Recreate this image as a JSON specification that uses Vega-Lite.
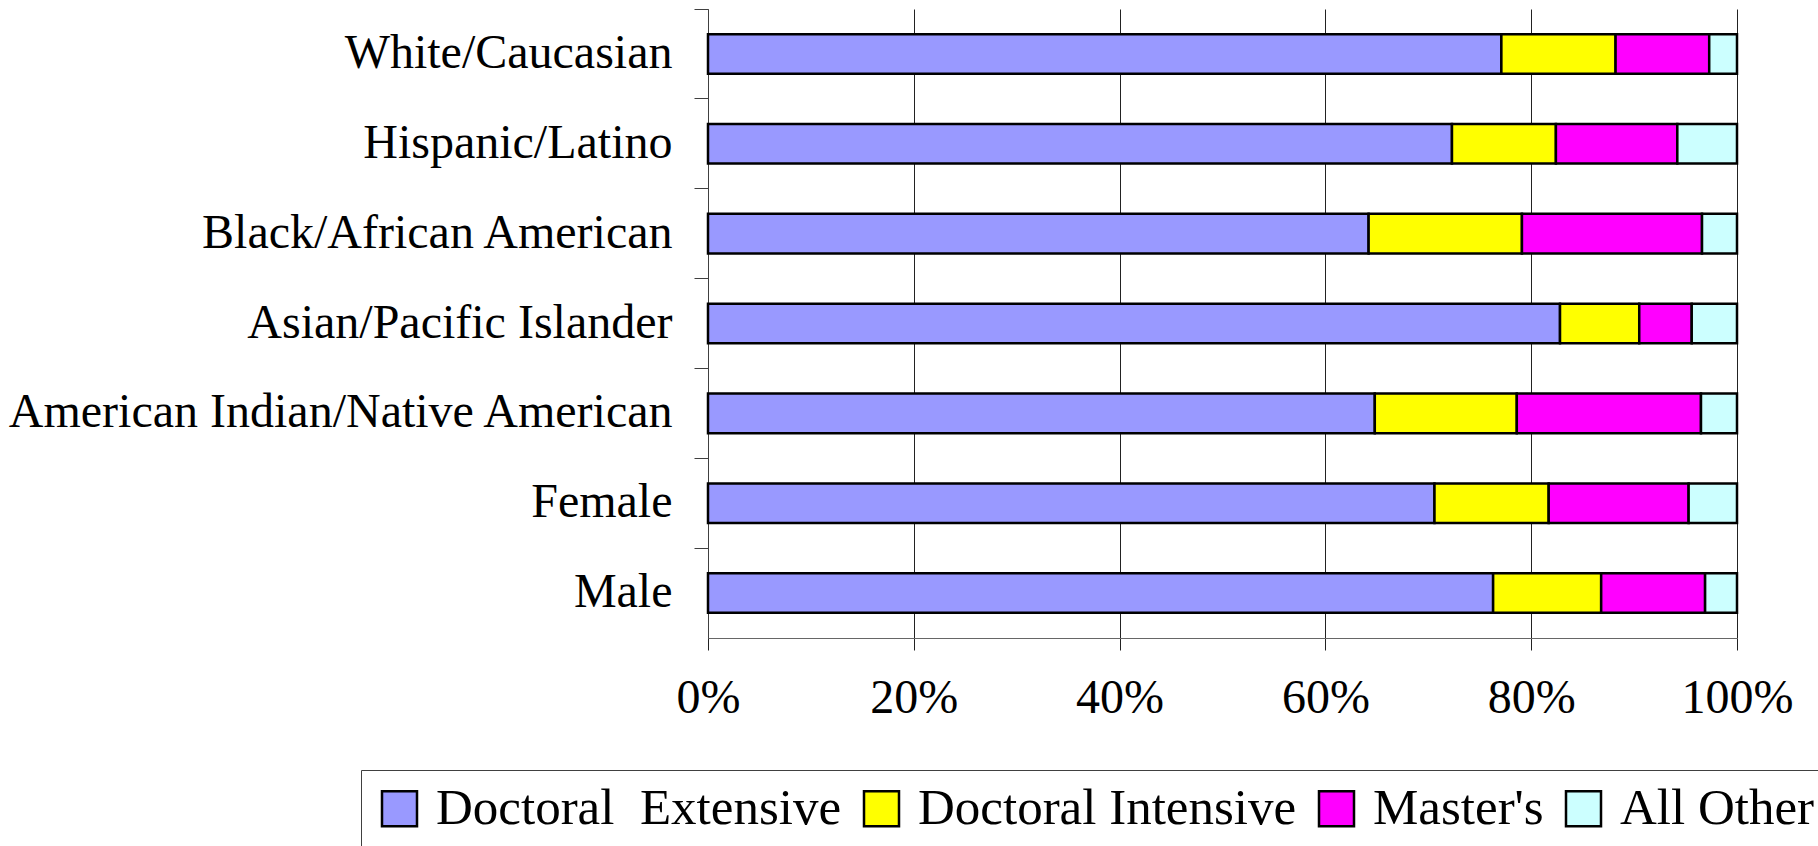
{
  "$schema": "https://vega.github.io/schema/vega-lite/v6.json",
  "autosize": {"type": "none"},
  "width": 1029,
  "height": 629,
  "padding": {"left": 708, "top": 9, "right": 81, "bottom": 208},
  "background": "white",
  "config": {
    "view": {"stroke": null},
    "font": "Liberation Serif"
  },
  "data": {
    "values": [
      {"group": "White/Caucasian", "type": "Doctoral\u00a0 Extensive", "share": 77.1},
      {"group": "White/Caucasian", "type": "Doctoral Intensive", "share": 11.1},
      {"group": "White/Caucasian", "type": "Master's", "share": 9.1},
      {"group": "White/Caucasian", "type": "All Other", "share": 2.7},
      {"group": "Hispanic/Latino", "type": "Doctoral\u00a0 Extensive", "share": 72.3},
      {"group": "Hispanic/Latino", "type": "Doctoral Intensive", "share": 10.1},
      {"group": "Hispanic/Latino", "type": "Master's", "share": 11.8},
      {"group": "Hispanic/Latino", "type": "All Other", "share": 5.8},
      {"group": "Black/African American", "type": "Doctoral\u00a0 Extensive", "share": 64.2},
      {"group": "Black/African American", "type": "Doctoral Intensive", "share": 14.9},
      {"group": "Black/African American", "type": "Master's", "share": 17.5},
      {"group": "Black/African American", "type": "All Other", "share": 3.4},
      {"group": "Asian/Pacific Islander", "type": "Doctoral\u00a0 Extensive", "share": 82.8},
      {"group": "Asian/Pacific Islander", "type": "Doctoral Intensive", "share": 7.7},
      {"group": "Asian/Pacific Islander", "type": "Master's", "share": 5.1},
      {"group": "Asian/Pacific Islander", "type": "All Other", "share": 4.4},
      {"group": "American Indian/Native American", "type": "Doctoral\u00a0 Extensive", "share": 64.8},
      {"group": "American Indian/Native American", "type": "Doctoral Intensive", "share": 13.8},
      {"group": "American Indian/Native American", "type": "Master's", "share": 17.9},
      {"group": "American Indian/Native American", "type": "All Other", "share": 3.5},
      {"group": "Female", "type": "Doctoral\u00a0 Extensive", "share": 70.6},
      {"group": "Female", "type": "Doctoral Intensive", "share": 11.1},
      {"group": "Female", "type": "Master's", "share": 13.6},
      {"group": "Female", "type": "All Other", "share": 4.7},
      {"group": "Male", "type": "Doctoral\u00a0 Extensive", "share": 76.3},
      {"group": "Male", "type": "Doctoral Intensive", "share": 10.5},
      {"group": "Male", "type": "Master's", "share": 10.1},
      {"group": "Male", "type": "All Other", "share": 3.1}
    ]
  },
  "transform": [
    {"calculate": "indexof(['Doctoral\u00a0 Extensive', 'Doctoral Intensive', \"Master's\", 'All Other'], datum.type)", "as": "stackOrder"}
  ],
  "mark": {
    "type": "bar",
    "height": {"band": 0.44},
    "stroke": "black",
    "strokeWidth": 2.5
  },
  "encoding": {
    "y": {
      "field": "group",
      "type": "nominal",
      "sort": ["White/Caucasian", "Hispanic/Latino", "Black/African American", "Asian/Pacific Islander", "American Indian/Native American", "Female", "Male"],
      "scale": {"paddingInner": 0, "paddingOuter": 0},
      "axis": {
        "title": null,
        "bandPosition": 0,
        "labelFontSize": 48,
        "labelColor": "black",
        "labelLimit": 900,
        "labelPadding": 22,
        "tickSize": 14,
        "tickColor": "#404040",
        "domainColor": "#404040",
        "grid": false
      }
    },
    "x": {
      "field": "share",
      "type": "quantitative",
      "stack": "normalize",
      "scale": {"domain": [0, 1], "nice": false},
      "axis": {
        "title": null,
        "format": ".0%",
        "values": [0, 0.2, 0.4, 0.6, 0.8, 1],
        "labelFontSize": 48,
        "labelColor": "black",
        "labelFlush": false,
        "labelPadding": 24,
        "tickSize": 12,
        "tickColor": "#222",
        "domainColor": "#666",
        "grid": true,
        "gridColor": "#222",
        "gridOpacity": 1,
        "gridWidth": 1
      }
    },
    "order": {"field": "stackOrder", "type": "quantitative"},
    "color": {
      "field": "type",
      "type": "nominal",
      "sort": ["Doctoral\u00a0 Extensive", "Doctoral Intensive", "Master's", "All Other"],
      "scale": {
        "domain": ["Doctoral\u00a0 Extensive", "Doctoral Intensive", "Master's", "All Other"],
        "range": ["#9999FF", "#FFFF00", "#FF00FF", "#CCFFFF"]
      },
      "legend": {
        "title": null,
        "orient": "none",
        "direction": "horizontal",
        "columns": 4,
        "legendX": -347,
        "legendY": 761,
        "padding": 13,
        "strokeColor": "#404040",
        "symbolType": "square",
        "symbolSize": 1225,
        "symbolStrokeColor": "black",
        "symbolStrokeWidth": 2.5,
        "symbolOpacity": 1,
        "labelFontSize": 51,
        "labelColor": "black",
        "labelLimit": 1000,
        "labelOffset": 11,
        "columnPadding": 14
      }
    }
  }
}
